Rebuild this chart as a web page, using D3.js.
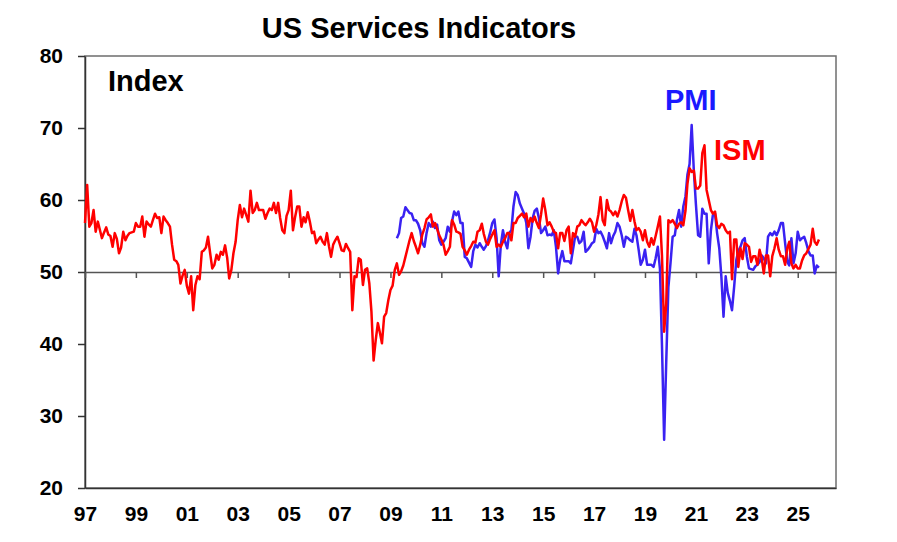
<!DOCTYPE html>
<html lang="en">
<head>
<meta charset="UTF-8">
<title>US Services Indicators</title>
<style>
  body { margin: 0; background: #fff; }
  svg text { font-family: "Liberation Sans", Arial, sans-serif; font-weight: bold; }
</style>
</head>
<body>
<div id="chart"></div>
<script src="https://cdn.jsdelivr.net/npm/d3@7"></script>
<script>

// ISM services index, monthly, first value = Jul 1997 (one row per Jul-Jun year)
const ismValues = [
  56.8, 62.1, 56.3, 56.8, 58.6, 55.6, 57.0, 55.8, 54.7, 55.5, 56.2, 55.2,
  55.0, 53.5, 55.4, 54.6, 52.6, 53.4, 55.6, 54.4, 55.0, 55.4, 55.5, 55.6,
  56.8, 56.3, 56.3, 57.7, 54.9, 57.0, 56.6, 56.3, 57.2, 58.1, 57.5, 57.6,
  55.4, 57.7, 57.2, 56.8, 56.3, 53.8, 51.7, 51.5, 51.0, 48.4, 49.5, 50.3,
  48.1, 47.0, 49.4, 44.7, 48.2, 49.4, 49.0, 52.8, 53.0, 53.4, 54.9, 52.6,
  50.5, 51.0, 52.4, 51.7, 52.8, 52.4, 53.7, 51.9, 49.1, 50.3, 52.6, 54.2,
  57.2, 59.3, 57.6, 58.8, 57.9, 57.0, 61.3, 58.2, 58.6, 59.6, 58.6, 58.6,
  58.6, 57.4, 58.2, 58.8, 58.6, 59.6, 58.2, 59.6, 57.5, 55.8, 55.4, 57.8,
  58.6, 61.3, 55.8, 57.6, 59.1, 59.1, 56.3, 57.6, 56.9, 58.3, 57.0, 55.4,
  55.6, 54.0, 54.5, 54.9, 54.2, 53.8, 55.4, 53.5, 52.1, 53.8, 54.4, 54.9,
  54.0, 53.0, 52.9, 53.9, 53.3, 52.8, 44.7, 49.4, 49.3, 51.9, 51.7, 48.2,
  50.3, 50.5, 48.4, 44.5, 37.7, 40.5, 42.9, 41.5, 40.1, 43.8, 44.3, 46.1,
  47.5, 48.1, 50.3, 51.2, 49.6, 50.1, 50.9, 52.1, 53.2, 54.4, 55.4, 54.3,
  53.5, 52.6, 53.8, 55.2, 56.1, 57.3, 57.6, 58.0, 56.3, 56.8, 56.0, 55.1,
  54.5, 53.8, 52.4, 52.9, 53.5, 57.2, 56.6, 55.6, 55.5, 55.3, 53.5, 53.0,
  52.4, 53.1, 53.6, 54.2, 54.1, 55.6, 55.8, 56.7, 55.3, 54.2, 53.8, 54.6,
  55.2, 55.8, 53.5, 53.8, 53.5, 54.2, 54.7, 55.4, 55.4, 54.4, 56.8, 56.8,
  57.5, 57.8, 58.1, 57.6, 58.1, 56.3, 57.5, 57.0, 57.7, 56.8, 56.1, 58.0,
  60.2, 58.6, 56.5, 56.9, 56.3, 55.6, 55.4, 53.3, 55.4, 55.4, 54.3, 55.8,
  56.3, 52.6, 55.4, 54.9, 56.3, 56.5, 57.2, 56.8, 56.5, 56.9, 57.4, 56.9,
  55.6, 56.5, 58.0, 60.4, 57.2, 56.5, 60.0, 58.6, 58.4, 57.9, 58.4, 57.7,
  58.6, 59.8, 60.7, 60.3, 58.6, 57.1, 58.6, 57.0, 55.8, 56.1, 55.6, 54.4,
  55.8, 54.2, 53.5, 54.7, 53.8, 55.0, 56.3, 57.7, 52.3, 41.7, 45.6, 57.2,
  56.9, 57.2, 56.7, 56.1, 56.7, 56.9, 56.5, 58.5, 62.2, 64.4, 63.9, 64.1,
  61.6, 61.6, 62.0, 66.5, 67.6, 61.4, 60.0, 58.6, 58.1, 58.4, 56.5, 56.1,
  56.7, 56.5, 55.8, 55.4, 55.6, 49.0, 54.5, 54.5, 50.7, 53.3, 51.8, 54.0,
  53.8, 53.5, 51.4, 52.2, 52.2, 51.0, 53.1, 51.8, 49.8, 52.3, 52.3, 49.4,
  52.2, 53.3, 54.7, 53.1, 52.2, 52.2, 51.0, 53.3, 54.2, 51.2, 50.5, 51.0,
  50.5, 50.5, 51.6, 52.3, 52.6, 53.2, 53.8, 56.0, 54.2, 53.8, 54.5
];

// services PMI, monthly, first value = Oct 2009
const pmiValues = [
                                    54.7, 55.4, 57.5,
  57.7, 59.0, 58.6, 58.2, 58.1, 57.2, 57.2, 56.7, 55.8, 54.0, 53.5, 55.4,
  56.8, 56.3, 57.0, 56.1, 56.6, 54.4, 53.8, 54.2, 54.7, 56.3, 55.6, 57.0,
  58.4, 57.9, 58.4, 56.8, 56.8, 52.1, 51.9, 51.3, 50.7, 52.9, 53.8, 53.4,
  54.0, 53.5, 53.1, 53.6, 54.4, 55.5, 56.8, 57.3, 54.7, 49.4, 53.8, 55.8,
  54.2, 53.3, 55.4, 55.8, 59.1, 61.1, 60.7, 59.5, 58.8, 58.1, 56.8, 53.3,
  54.9, 57.5, 58.5, 58.8, 57.5, 55.4, 55.8, 56.3, 55.1, 55.2, 55.1, 55.8,
  53.5, 49.8, 51.7, 52.9, 51.5, 51.5, 51.5, 51.2, 53.1, 54.9, 54.9, 54.0,
  54.3, 55.6, 52.8, 53.1, 53.5, 54.0, 54.2, 56.0, 55.4, 55.6, 55.0, 54.2,
  53.3, 55.4, 54.0, 55.0, 55.6, 56.8, 56.3, 55.1, 53.5, 54.9, 54.7, 54.4,
  54.2, 56.0, 55.1, 53.1, 51.0, 51.7, 53.1, 51.0, 51.0, 51.0, 50.7, 51.9,
  53.5, 50.4, 39.8, 26.7, 37.5, 47.9, 51.2, 54.9, 55.1, 57.2, 58.6, 56.3,
  59.1, 60.5, 63.5, 65.0, 70.4, 64.1, 59.4, 55.1, 54.9, 58.8, 58.1, 58.1,
  51.2, 55.8, 57.9, 58.1, 55.4, 53.3, 49.4, 43.8, 49.4, 47.1, 46.0, 44.7,
  48.0, 51.7, 52.9, 53.5, 54.4, 54.7, 52.2, 50.5, 50.4, 50.3, 50.8, 51.0,
  51.4, 52.3, 51.9, 51.2, 54.9, 55.4, 55.1, 55.6, 55.1, 55.8, 56.8, 56.8,
  54.0, 51.4, 50.9, 54.7, 51.2, 52.6, 55.6, 54.4, 54.7, 54.9, 54.0, 52.9,
  52.3, 52.3, 49.8, 50.9, 50.6
];

const ismStart = "1997-07";
const pmiStart = "2009-10";

const yTicks = [20, 30, 40, 50, 60, 70, 80];
const xTickLabels = ["97", "99", "01", "03", "05", "07", "09", "11", "13", "15", "17", "19", "21", "23", "25"];

const W = 897, H = 542;
const plotLeft = 85, plotRight = 836, plotTop = 56, plotBottom = 488;

const parseMonth = d3.timeParse("%Y-%m");

// month series -> {date, value}
function toSeries(start, values) {
  const d0 = parseMonth(start);
  return values.map(function(v, i) { return { date: d3.timeMonth.offset(d0, i), value: v }; });
}
const ism = toSeries(ismStart, ismValues);
const pmi = toSeries(pmiStart, pmiValues);

// labels sit in the middle of each odd year
const xTickDates = xTickLabels.map(function(s) { return d3.timeMonth.offset(d3.timeParse("%y")(s), 6); });

const x = d3.scaleTime()
  .domain([parseMonth("1997-07"), parseMonth("2027-01")])
  .range([plotLeft, plotRight]);

const y = d3.scaleLinear()
  .domain([20, 80])
  .range([plotBottom, plotTop]);

const svg = d3.select("#chart")
  .append("svg")
    .attr("width", W)
    .attr("height", H);

// title
svg.append("text")
  .attr("x", 419)
  .attr("y", 38)
  .attr("text-anchor", "middle")
  .attr("font-size", 29)
  .text("US Services Indicators");

// frame: top and right
svg.append("rect")
  .attr("x", plotLeft)
  .attr("y", plotTop)
  .attr("width", plotRight - plotLeft)
  .attr("height", plotBottom - plotTop)
  .attr("fill", "none")
  .attr("stroke", "#6e6e6e")
  .attr("stroke-width", 1.5);

// y axis
const yAxis = svg.append("g")
  .attr("transform", "translate(" + plotLeft + ",0)")
  .call(d3.axisLeft(y).tickValues(yTicks).tickSize(7).tickPadding(15).tickSizeOuter(0));
yAxis.selectAll("text").attr("font-size", 21).attr("fill", "#000");
yAxis.selectAll("line, path").attr("stroke", "#333").attr("stroke-width", 1.5);

// x axis labels along the bottom
const xAxis = svg.append("g")
  .attr("transform", "translate(0," + plotBottom + ")")
  .call(d3.axisBottom(x).tickValues(xTickDates).tickFormat(d3.timeFormat("%y")).tickSize(0).tickPadding(18));
xAxis.selectAll("text").attr("font-size", 21).attr("fill", "#000");
xAxis.select(".domain").attr("stroke", "#333").attr("stroke-width", 1.5);

// 50 line with small ticks
const midAxis = svg.append("g")
  .attr("transform", "translate(0," + y(50) + ")")
  .call(d3.axisBottom(x).tickValues(xTickDates).tickFormat("").tickSize(6).tickSizeOuter(0));
midAxis.selectAll("line, path").attr("stroke", "#555").attr("stroke-width", 1.5);

// lines
const line = d3.line()
  .x(function(d) { return x(d.date); })
  .y(function(d) { return y(d.value); });

svg.append("path")
  .datum(pmi)
  .attr("fill", "none")
  .attr("stroke", "#3a22f2")
  .attr("stroke-width", 2.5)
  .attr("stroke-linejoin", "round")
  .attr("d", line);

svg.append("path")
  .datum(ism)
  .attr("fill", "none")
  .attr("stroke", "#ff0000")
  .attr("stroke-width", 2.5)
  .attr("stroke-linejoin", "round")
  .attr("d", line);

// labels inside plot
svg.append("text")
  .attr("x", 108)
  .attr("y", 91)
  .attr("font-size", 29)
  .text("Index");

svg.append("text")
  .attr("x", 665)
  .attr("y", 110)
  .attr("font-size", 29)
  .attr("fill", "#1a1aff")
  .text("PMI");

svg.append("text")
  .attr("x", 714)
  .attr("y", 160)
  .attr("font-size", 29)
  .attr("fill", "#ff0000")
  .text("ISM");

</script>
</body>
</html>
